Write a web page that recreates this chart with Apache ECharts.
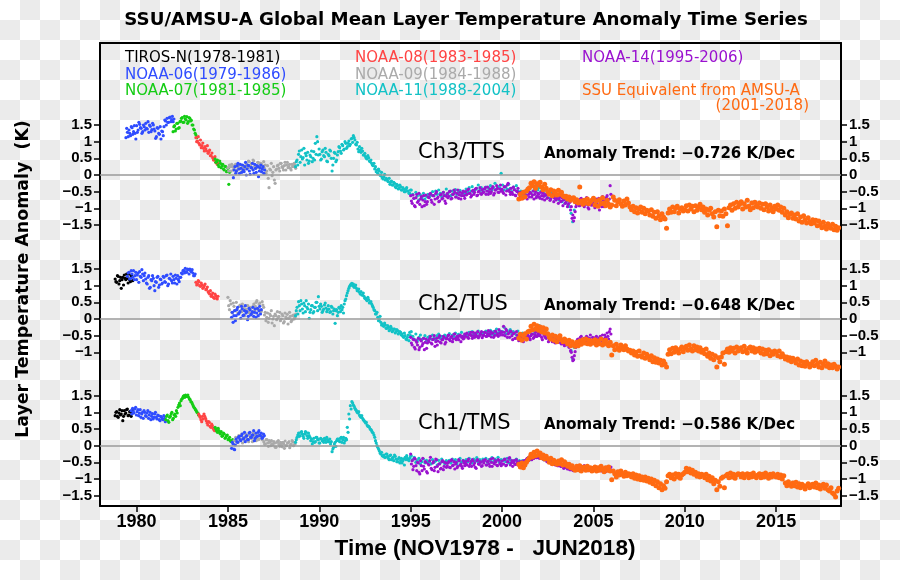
<!DOCTYPE html>
<html><head><meta charset="utf-8">
<script src="https://cdn.jsdelivr.net/npm/echarts@6/dist/echarts.min.js"></script>
<style>
html,body{margin:0;padding:0;}
body{width:900px;height:580px;background:repeating-conic-gradient(#ebebeb 0% 25%, #ffffff 0% 50%) 0 0/40px 40px;}
#chart{width:900px;height:580px;}
</style></head><body><div id="chart"></div>
<script>
// ---------- axis ticks ----------
const xTicks = [1980, 1985, 1990, 1995, 2000, 2005, 2010, 2015];
const yTicks3 = [-1.5, -1, -0.5, 0, 0.5, 1, 1.5];
const yTicks2 = [-1, -0.5, 0, 0.5, 1, 1.5];
const yTicks1 = [-1.5, -1, -0.5, 0, 0.5, 1, 1.5];

// All anomaly values below are in hundredths of a kelvin, monthly from the given start year.
// "_b" arrays are the second sample of each month (mid-month).
// ---------- Ch3/TTS ----------
const ch3_n06a_start = 1979.42;
const ch3_n06a = [112,128,135,118,142,130,125, 148,135,152,140,130,145,155,138,128,146,136,150, 132,115,140,122,108,130, 145,162,170,158,174,166,160];
const ch3_n06a_b = [140,115,125,145,122,148,108, 128,158,142,125,150,135,140,160,150,130,155,138, 110,142,125,145,132,118, 165,150,158,172,160,176,168];
const ch3_n07a_start = 1982.0;
const ch3_n07a = [130,148,138,155,142, 162,172,158,168,175,160,170,164, 150,135,120];
const ch3_n07a_b = [145,132,155,140,160, 170,158,176,165,155,172,162,150, 138,125,112];
const ch3_n08_start = 1983.25;
const ch3_n08 = [112,102,95,105,88,80,85,72,65,75,58,52,45,38,32];
const ch3_n08_b = [100,115,90,82,96,72,78,88,70,58,66,45,55,42,35];
const ch3_n07b_start = 1984.3;
const ch3_n07b = [48,40,30,42,22,32,15,25,12,-28];
const ch3_n07b_b = [38,45,25,35,28,18,26,10,20,8];
const ch3_n06b_start = 1985.3;
const ch3_n06b = [-8,25,12,35,5,20,30,10,38,18,28,2,22,15,32,8,25,12,30,18,5];
const ch3_n06b_b = [15,5,28,18,32,8,15,25,0,30,12,22,35,5,20,28,-5,22,10,25,15];
const ch3_n09_start = 1985.0;
const ch3_n09 = [22,30,12,25,18,32,15,28,20,10,26,18, 35,22,40,28,18,42,30,25,38,20,33,27, 20,5,28,-38,15,-2,25,-25, 18,30,12,35,22,28,15,38,25,20,32,26,30];
const ch3_n09_b = [12,25,32,15,28,10,24,18,30,22,15,28, 25,42,28,35,45,25,20,38,28,35,22,40, 30,12,-10,18,35,8,-15,15, 28,20,35,25,15,38,30,22,32,15,25,35,20];
const ch3_n11_start = 1988.7;
const ch3_n11 = [25,45,62,38,75,52,30,58,68,42, 55,40,70,95,115,60, 62,48,75,55,68,40,58,72,12,50,65,45, 70,82,65,88,78,95,85,102,92,110,118, 105,90,78,85,68,72,60,55,48,52,40,35,28, 18,10,5,12,-2,-8,-5,-15, -12,-20,-28,-18,-30,-25,-38,-32,-40,-35,-45,-42,-50,-38,-48,-55,
 -45,-58,-70,-52,-62,-75,-60,-68,-55,-72,-64,-58,-66,-60,
 -50,-62,-48,-58,-45,-55,-65,-52,-60,-42,-56,-50,-62,-48,-54,-44,-58,-52,-46,-60,-50,-55,
 -42,-50,-38,-48,-35,-52,-44,-40,-30,-46,-38,-50,-42,-36,-48,-40,-32,-45,-38,-25,-42,-35,
 -38,5,-30,-45,-35,-42,-28,-40,-50,-36,-44,-32,-48,
 -55,-48,-62,-50,-58,-45,-40,-52,-35,-48,-42,-30,-45,
 -38,-50,-44,-55,-62,-48,-58,-70,-52,-65,-60,-72,
 -68,-75,-62,-80,-72,-85,-78,-90,-95,-115,-140,-105];
const ch3_n11_b = [40,30,72,55,48,80,65,45,35,60, 72,50,45,62,100,78, 45,70,58,80,42,62,75,50,30,68,40,60, 85,72,92,75,100,80,95,88,108,98,112, 92,98,70,75,80,60,65,50,58,42,45,30,35, 25,15,18,0,8,-12,2,-10, -18,-10,-22,-30,-22,-35,-28,-42,-30,-45,-38,-50,-42,-48,-55,-45];
const ch3_n14_start = 1995.0;
const ch3_n14 = [-62,-85,-70,-95,-58,-78,-88,-65,-75,-92,-60,-80,
 -68,-55,-82,-62,-72,-50,-66,-78,-58,-70,-62,-85,
 -56,-64,-48,-70,-58,-52,-66,-45,-60,-72,-54,-62,
 -50,-58,-42,-55,-62,-46,-52,-40,-60,-48,-56,-44,
 -52,-38,-48,-58,-42,-50,-35,-55,-45,-40,-52,-30,
 -42,-55,-36,-48,-25,-50,-40,-58,-44,-62,-50,-56,
 -65,-52,-70,-58,-62,-48,-66,-55,-60,-72,-50,-64,
 -58,-70,-62,-55,-75,-60,-68,-52,-72,-65,-80,-62,
 -70,-85,-66,-78,-92,-72,-82,-95,-75,-105,-130,-138,
 -110,-88,-78,-92,-70,-85,-95,-75,-88,-102,-80,-90,
 -85,-98,-72,-90,-105,-82,-65,-95,-78,-62,-88,-32];
const ch3_n14_b = [-78,-60,-92,-68,-82,-55,-72,-95,-62,-80,-88,-66,
 -58,-75,-62,-88,-55,-70,-80,-60,-72,-52,-78,-64,
 -68,-50,-72,-58,-45,-66,-55,-70,-52,-62,-48,-70,
 -60,-45,-55,-66,-48,-58,-42,-62,-50,-38,-58,-52,
 -42,-58,-36,-50,-55,-40,-60,-45,-32,-52,-42,-48,
 -50,-35,-60,-30,-45,-58,-52,-36,-60,-48,-40,-52,
 -55,-68,-50,-62,-72,-58,-52,-66,-48,-58,-68,-55,
 -66,-52,-72,-64,-58,-70,-55,-76,-62,-58,-70,-75,
 -62,-72,-80,-68,-75,-85,-70,-88,-82,-95,-120,-128,
 -95,-80,-92,-72,-85,-78,-88,-68,-98,-82,-90,-75,
 -92,-78,-88,-70,-82,-95,-75,-85,-68,-80,-72,-58];
const ch3_amsu_start = 2000.92;
const ch3_amsu = [-72,-58,-70,-52,-65,-48,-42,
 -38,-25,-32,-20,-40,-26,-30,-22,-36,-44,-28,-40,
 -50,-58,-44,-62,-48,-55,-60,-46,-58,-52,-62,-66,
 -64,-72,-66,-76,-70,-68,
 -80,-74,-84,-36,-78,-88,-76,-84,-72,-86,-80,-76,
 -70,-90,-78,-94,-74,-86,-68,-84,-92,-76,-88,-96,
 -90,-66,-76,-92,-80,-74,-86,-94,-78,-90,-72,-84,
 -96,-104,-94,-110,-98,-114,-102,-96,-112,-100,-116,-106,
 -108,-120,-104,-124,-112,-130,-110,-122,-134,-116,-126,-132,
 -160,-114,-102,-112,-96,-110,-100,-94,-114,-102,-98,-108,
 -104,-92,-108,-90,-102,-94,-110,-92,-106,-96,-88,-104,
 -96,-112,-102,-120,-106,-100,-116,-126,-110,-155,-106,-122,
 -108,-124,-102,-116,-152,-98,-90,-106,-86,-100,-82,-96,
 -88,-80,-102,-86,-96,-76,-94,-104,-84,-98,-82,-92,
 -96,-84,-100,-88,-104,-86,-96,-108,-90,-100,-110,-94,
 -102,-90,-106,-96,-112,-100,-120,-110,-128,-118,-114,-130,
 -120,-132,-116,-138,-126,-142,-122,-134,-144,-128,-140,-146,
 -134,-144,-136,-152,-138,-150,-158,-142,-154,-162,-146,-156,
 -160,-148,-164,-154,-166,-158];

// ---------- Ch2/TUS ----------
const ch2_tiros_start = 1978.83;
const ch2_tiros = [120,110,128,115,92,125,132,118,122,135,112,128];
const ch2_tiros_b = [112,130,105,125,118,102,122,135,108,118,130,115];
const ch2_n06a_start = 1979.5;
const ch2_n06a = [128,140,122,135,145,130,118,138,142,125,135,130, 120,105,130,95,115,122,85,110,128,102,118,108, 125,110,132,105,120,115,128,108,122,130,112,125, 135,145,152,140,148,150,142,138,130];
const ch2_n06a_b = [138,120,145,125,118,140,132,110,128,148,115,138, 108,125,92,118,130,100,112,125,95,120,105,128, 112,130,100,122,135,108,118,132,105,118,125,138, 145,138,142,150,135,145,148,130,135];
const ch2_n08_start = 1983.25;
const ch2_n08 = [110,105,112,98,102,95,105,90,82,75,68,78,62,70,60];
const ch2_n08_b = [102,115,100,108,92,100,88,96,78,85,72,65,75,62,68];
const ch2_n06b_start = 1985.2;
const ch2_n06b = [5,-10,25,10,35,18,2,30,12,40,22,8,28,15,35,20,5,32,25,15];
const ch2_n06b_b = [20,10,-5,28,15,22,38,10,25,18,-2,32,12,22,8,30,18,10,38,28];
const ch2_n09_start = 1985.0;
const ch2_n09 = [65,28,45,18,38,25, 30,15,42,22,35,10,28,40,20,32,18,45, 38,55,30,48,25,42, 12,-5,18,2,10,-12,8,15,-2,5,20,0,10,-8,6,14,2,8,-4,12,5];
const ch2_n09_b = [40,55,20,48,25,50, 18,38,25,45,12,30,40,20,35,15,38,25, 50,30,45,20,52,35, 20,5,-10,15,25,0,-20,10,22,8,-5,15,-12,18,2,-15,20,-8,10,0,15];
const ch2_n11_start = 1988.7;
const ch2_n11 = [10,35,52,25,45,18,40,55,30,2, 28,40,22,35,50,67,30,38,25,42,33,28, 30,22,35,25,-13,28,20,32,40,35, 45,60,78,92,102,107, 105,98,92,85,80,82,72,68,62,55,58,50,45, 35,25,15,5,-2,-10, -15,-22,-18,-28,-25,-32,-28,-35,-30,-38,-35,-42,-40, -45,-55,-50,-62,-48,-40,
 -38,-52,-60,-45,-65,-55,-48,-62,-58,-50,-66,-55,
 -52,-60,-48,-56,-62,-50,-45,-58,-52,-60,-48,-55,
 -50,-44,-56,-48,-52,-42,-55,-46,-50,-40,-52,-48,
 -45,-50,-40,-48,-38,-46,-52,-42,-36,-48,-44,-40,
 -42,-36,-48,-40,-34,-46,-38,-44,-30,-42,-36,-40,
 -38,-25,-44,-35,-40,-32,-45,-38,-42,-48,-36,-44,
 -50,-42,-55,-46,-40,-52,-35,-45,-30,-42,-38,-32,
 -20,-35,-28,-42,-38,-45,-52,-48,-55,-62,-50,-58,
 -55,-62,-58,-68,-60,-72,-65,-78,-70,-95,-120,-85];
const ch2_n11_b = [25,15,40,55,30,48,22,35,45,20, 40,18,35,50,25,38,45,20,30,48,22,40, 20,38,15,30,25,10,35,22,28,18, 55,70,85,98,105,100, 95,102,85,90,75,72,78,62,58,65,48,52,40, 28,15,20,-5,8,-18, -20,-12,-28,-20,-35,-22,-38,-30,-42,-32,-45,-38,-48, -52,-42,-60,-55,-65,-50];
const ch2_n14_start = 1995.0;
const ch2_n14 = [-55,-78,-62,-90,-70,-58,-85,-66,-74,-92,-60,-72,
 -68,-52,-75,-60,-82,-58,-66,-50,-72,-62,-55,-70,
 -58,-48,-65,-52,-60,-45,-62,-55,-50,-68,-52,-58,
 -52,-42,-58,-45,-50,-40,-55,-48,-38,-52,-46,-56,
 -48,-40,-52,-35,-46,-54,-42,-50,-38,-45,-32,-48,
 -40,-22,-50,-35,-45,-55,-38,-62,-42,-58,-48,-65,
 -60,-52,-68,-55,-62,-48,-58,-50,-45,-55,-40,-52,
 -42,-48,-55,-38,-50,-58,-45,-62,-52,-68,-58,-72,
 -62,-70,-58,-75,-66,-80,-62,-72,-85,-95,-115,-122,
 -98,-72,-60,-68,-52,-65,-58,-70,-55,-62,-48,-66,
 -58,-70,-52,-65,-60,-75,-48,-62,-55,-42,-60,-30];
const ch2_n14_b = [-72,-60,-85,-65,-78,-92,-62,-80,-58,-70,-88,-64,
 -58,-72,-62,-50,-68,-78,-55,-70,-62,-52,-75,-60,
 -50,-62,-55,-68,-45,-58,-52,-62,-48,-55,-60,-45,
 -45,-55,-48,-40,-58,-50,-42,-52,-56,-44,-38,-50,
 -40,-52,-44,-50,-38,-42,-55,-36,-48,-52,-42,-38,
 -48,-40,-30,-55,-42,-36,-50,-44,-58,-38,-52,-45,
 -52,-62,-48,-58,-50,-55,-62,-45,-58,-48,-52,-46,
 -50,-40,-62,-48,-55,-45,-68,-55,-60,-62,-70,-65,
 -68,-60,-72,-62,-75,-68,-78,-70,-80,-100,-125,-110,
 -85,-62,-72,-55,-70,-60,-65,-52,-68,-58,-70,-55,
 -62,-55,-68,-58,-52,-66,-60,-48,-64,-52,-38,-45];
const ch2_amsu_start = 2000.92;
const ch2_amsu = [-58,-46,-64,-50,-44,-60,-38,
 -36,-22,-32,-16,-30,-20,-34,-24,-38,-26,-42,-30,
 -44,-54,-60,-48,-64,-52,-68,-56,-50,-62,-68,-60,
 -66,-74,-64,-80,-68,-76,
 -82,-70,-80,-66,-76,-62,-72,-60,-74,-64,-76,-66,
 -72,-62,-78,-66,-74,-60,-78,-68,-64,-76,-80,-70,
 -108,-80,-92,-76,-86,-94,-78,-88,-92,-80,-90,-96,
 -94,-102,-96,-108,-100,-112,-96,-110,-114,-102,-118,-106,
 -114,-122,-110,-128,-116,-130,-120,-132,-124,-138,-126,-134,
 -144,-106,-92,-104,-88,-100,-86,-96,-102,-90,-84,-98,
 -88,-82,-94,-78,-90,-96,-80,-92,-84,-96,-86,-100,
 -94,-104,-90,-112,-102,-118,-106,-122,-110,-144,-116,-128,
 -114,-102,-136,-98,-90,-100,-86,-96,-88,-102,-84,-96,
 -90,-86,-98,-82,-94,-102,-88,-84,-96,-86,-100,-90,
 -96,-88,-102,-90,-106,-94,-104,-92,-110,-98,-106,-96,
 -100,-110,-96,-114,-104,-112,-120,-114,-124,-116,-128,-118,
 -124,-132,-120,-138,-126,-140,-130,-142,-128,-134,-144,-136,
 -128,-140,-124,-136,-144,-130,-146,-136,-126,-142,-134,-146,
 -138,-146,-136,-142,-150,-144];

// ---------- Ch1/TMS ----------
const ch1_tiros_start = 1978.83;
const ch1_tiros = [90,102,85,108,95,75,105,98,110,92,102,96];
const ch1_tiros_b = [100,88,98,92,105,88,95,108,90,102,88,105];
const ch1_n06a_start = 1979.7;
const ch1_n06a = [105,112,98,115,102,90,108,95,82,100,88,105,92,78,96,85,100,80,90,75,85,78,82];
const ch1_n06a_b = [95,102,110,92,108,98,85,100,105,90,98,82,100,88,80,95,85,92,78,88,80,90,72];
const ch1_n07a_start = 1981.6;
const ch1_n07a = [78,92,70,88,100,82,95, 105,115,128,135,142,150,152, 148,145,138,130,120,112,105,98];
const ch1_n07a_b = [88,75,85,95,78,92,88, 98,122,120,140,148,145,148, 152,140,132,125,115,108,100,92];
const ch1_n08_start = 1983.4;
const ch1_n08 = [95,85,72,80,88,75,62,70,55,60,48];
const ch1_n08_b = [90,78,88,95,82,68,72,58,65,52,45];
const ch1_n07b_start = 1984.3;
const ch1_n07b = [55,45,52,38,42,30,35,25,32,20,15,12];
const ch1_n07b_b = [50,40,45,35,28,38,22,30,18,25,12,18];
const ch1_n06b_start = 1985.2;
const ch1_n06b = [-8,5,-12,20,10,28,15,35,22,12,30,18,40,25,32,15,38,28,45,30,22,35];
const ch1_n06b_b = [10,-10,2,12,25,18,30,20,40,28,18,38,25,32,45,22,28,40,32,38,25,30];
const ch1_n09_start = 1985.3;
const ch1_n09 = [5,15,22,10,28,18,8,25,35,20,12,30,22,38,25,15,32,20,28,18, 12,5,18,-2,10,15,2,8,-5,12,4,10,-3,6,14,0,8,-6,5,12,10];
const ch1_n09_b = [15,25,10,30,20,35,22,15,28,18,32,22,12,28,35,22,18,30,25,32, 5,18,8,15,0,5,12,-5,10,15,-2,5,10,-8,0,8,12,2,15,0,5];
const ch1_n11_start = 1988.7;
const ch1_n11 = [10,25,38,30,42,28,35,40,22,30, 15,5,22,12,25,18,8,20,15,22,10,18,12, 5,-18,-5,10,15, 20,12,25,18,8,22, 55,95,120,132, 122,112,105,98,92,85,82,75,68,62,58,50,45,38, 25,8,-5,-15,-25,-30, -28,-35,-25,-38,-30,-42,-35,-28,-40,-48,-36,-45,-52,-40,-35,-30,-42,-38,
 -30,-42,-35,-50,-45,-38,-55,-48,-40,-52,-44,-50,
 -48,-55,-42,-50,-46,-58,-44,-52,-40,-48,-54,-45,
 -50,-44,-52,-40,-48,-42,-55,-46,-38,-50,-44,-48,
 -42,-48,-38,-46,-52,-40,-45,-36,-50,-42,-48,-40,
 -44,-38,-50,-42,-46,-36,-48,-40,-44,-35,-50,-42,
 -45,-40,-48,-38,-52,-42,-46,-50,-44,-40,-48,-45,
 -50,-45,-55,-48,-40,-35,-42,-30,-38,-32,-28,-35,
 -30,-38,-35,-42,-40,-45,-48,-44,-52,-48,-55,-50,
 -55,-52,-60,-58,-62,-66,-60,-68,-64,-70,-72,-68];
const ch1_n11_b = [18,32,28,40,35,22,42,30,38,25, 20,12,10,25,18,8,22,15,10,18,25,12,20, 12,-10,5,-2,20, 15,22,10,25,15,18, 40,80,110,128, 118,108,100,102,88,90,78,72,70,58,55,48,40,32, 15,0,-10,-22,-20,-32, -35,-25,-32,-42,-28,-38,-45,-32,-48,-40,-52,-38,-45,-58,-42,-38,-45,-32];
const ch1_n14_start = 1995.0;
const ch1_n14 = [-25,-45,-62,-40,-75,-52,-85,-60,-38,-70,-50,-82,
 -58,-35,-72,-48,-65,-42,-78,-55,-68,-45,-62,-52,
 -60,-48,-66,-42,-58,-70,-50,-62,-45,-55,-68,-52,
 -48,-58,-40,-55,-62,-45,-52,-68,-42,-56,-50,-60,
 -52,-42,-58,-46,-62,-50,-38,-55,-48,-60,-44,-52,
 -46,-55,-40,-58,-48,-36,-52,-62,-45,-56,-50,-58,
 -55,-48,-60,-45,-42,-38,-35,-40,-32,-38,-30,-36,
 -32,-28,-38,-35,-42,-38,-45,-50,-46,-55,-52,-58,
 -55,-60,-52,-62,-58,-66,-60,-70,-65,-72,-68,-75,
 -70,-62,-72,-65,-75,-68,-60,-72,-66,-74,-70,-76,
 -68,-72,-65,-76,-70,-62,-74,-68,-78,-66,-72,-70];
const ch1_n14_b = [-55,-72,-38,-60,-50,-80,-45,-75,-62,-48,-78,-55,
 -45,-68,-52,-75,-40,-62,-55,-70,-48,-72,-50,-65,
 -52,-65,-45,-60,-48,-55,-66,-42,-58,-62,-45,-60,
 -55,-45,-62,-48,-42,-58,-65,-45,-55,-48,-62,-45,
 -45,-58,-48,-55,-40,-62,-52,-45,-58,-42,-55,-60,
 -55,-42,-60,-48,-38,-58,-45,-50,-56,-42,-58,-48,
 -50,-58,-45,-52,-38,-45,-30,-42,-38,-30,-36,-28,
 -38,-35,-30,-42,-36,-48,-40,-45,-55,-50,-48,-55,
 -60,-55,-62,-58,-68,-60,-66,-62,-72,-66,-74,-70,
 -65,-72,-66,-76,-62,-72,-70,-64,-75,-68,-72,-66,
 -74,-66,-72,-68,-62,-76,-68,-72,-65,-75,-70,-64];
const ch1_amsu_start = 2000.92;
const ch1_amsu = [-56,-64,-52,-66,-58,-50,-42,
 -36,-26,-34,-20,-30,-16,-28,-22,-36,-28,-40,-32,
 -40,-50,-38,-54,-44,-52,-56,-46,-54,-42,-58,-48,
 -54,-62,-56,-66,-60,-70,
 -74,-62,-72,-60,-76,-66,-64,-74,-62,-72,-66,-76,
 -68,-64,-76,-66,-74,-62,-70,-78,-66,-74,-64,-76,
 -102,-76,-84,-94,-78,-88,-76,-86,-92,-80,-90,-84,
 -86,-94,-84,-98,-88,-100,-90,-102,-94,-104,-94,-106,
 -98,-110,-100,-114,-104,-120,-108,-126,-114,-132,-120,-128,
 -108,-90,-86,-96,-88,-100,-84,-94,-86,-98,-88,-84,
 -80,-68,-78,-70,-82,-74,-86,-80,-92,-84,-94,-86,
 -88,-96,-86,-102,-92,-106,-96,-114,-104,-132,-108,-122,
 -98,-94,-126,-90,-86,-96,-82,-94,-86,-98,-88,-84,
 -86,-94,-84,-96,-88,-84,-96,-86,-94,-82,-90,-96,
 -88,-84,-96,-86,-94,-82,-90,-98,-86,-94,-84,-90,
 -94,-86,-96,-88,-100,-90,-112,-120,-108,-116,-122,-112,
 -120,-110,-124,-114,-126,-116,-120,-130,-120,-114,-126,-118,
 -116,-124,-112,-126,-118,-130,-120,-116,-128,-118,-132,-136,
 -126,-142,-146,-154,-136,-128];

// ---------- text ----------
const titleText = 'SSU/AMSU-A Global Mean Layer Temperature Anomaly Time Series';
const yName = 'Layer Temperature Anomaly  (K)';
const xName = 'Time (NOV1978 -   JUN2018)';
const panelNames = ['Ch3/TTS', 'Ch2/TUS', 'Ch1/TMS'];
const trends = ['Anomaly Trend: \u22120.726 K/Dec', 'Anomaly Trend: \u22120.648 K/Dec', 'Anomaly Trend: \u22120.586 K/Dec'];
const legendNames = ['TIROS-N(1978-1981)', 'NOAA-06(1979-1986)', 'NOAA-07(1981-1985)', 'NOAA-08(1983-1985)', 'NOAA-09(1984-1988)', 'NOAA-11(1988-2004)', 'NOAA-14(1995-2006)', 'SSU Equivalent from AMSU-A', '(2001-2018)'];

// ---------- styling ----------
const C = {tiros:'#000000', n06:'#2f4cff', n07:'#14cc14', n08:'#ff4444', n09:'#aaaaaa', n11:'#12c2c6', n14:'#9a12cf', amsu:'#ff6a12'};
const SMALL = 3.2, BIG = 5;
const gridsPx = [{top:43, height:204}, {top:247, height:128}, {top:375, height:131}];
const yRange = [[-2.16, 3.96], [-1.68, 2.16], [-1.81, 2.12]];
const yTickSets = [yTicks3, yTicks2, yTicks1];

function pts(start, vals, off) { return vals.map((v, i) => [start + (off || 0) + i / 12, v / 100]); }
function fmt(v) { return v < 0 ? '\u2212' + Math.abs(v) : String(v); }
function sc(g, start, vals, color, size, off) {
  return {type:'scatter', xAxisIndex:g, yAxisIndex:g*2, data:pts(start, vals, off), symbol:'circle',
    symbolSize:size, itemStyle:{color:color, opacity:1}, silent:true, animation:false};
}
const H = 1 / 24; // mid-month offset for second samples
function pair(g, start, a, b, color) {
  return [sc(g, start, a, color, SMALL, 0), sc(g, start, b, color, SMALL, H)];
}

const series = [
  // Ch3
  ...pair(0, ch3_n06a_start, ch3_n06a, ch3_n06a_b, C.n06),
  ...pair(0, ch3_n07a_start, ch3_n07a, ch3_n07a_b, C.n07),
  ...pair(0, ch3_n08_start, ch3_n08, ch3_n08_b, C.n08),
  ...pair(0, ch3_n07b_start, ch3_n07b, ch3_n07b_b, C.n07),
  ...pair(0, ch3_n09_start, ch3_n09, ch3_n09_b, C.n09),
  ...pair(0, ch3_n06b_start, ch3_n06b, ch3_n06b_b, C.n06),
  ...pair(0, ch3_n11_start, ch3_n11, ch3_n11_b, C.n11),
  ...pair(0, ch3_n14_start, ch3_n14, ch3_n14_b, C.n14),
  sc(0, ch3_amsu_start, ch3_amsu, C.amsu, BIG),
  // Ch2
  ...pair(1, ch2_tiros_start, ch2_tiros, ch2_tiros_b, C.tiros),
  ...pair(1, ch2_n06a_start, ch2_n06a, ch2_n06a_b, C.n06),
  ...pair(1, ch2_n08_start, ch2_n08, ch2_n08_b, C.n08),
  ...pair(1, ch2_n09_start, ch2_n09, ch2_n09_b, C.n09),
  ...pair(1, ch2_n06b_start, ch2_n06b, ch2_n06b_b, C.n06),
  ...pair(1, ch2_n11_start, ch2_n11, ch2_n11_b, C.n11),
  ...pair(1, ch2_n14_start, ch2_n14, ch2_n14_b, C.n14),
  sc(1, ch2_amsu_start, ch2_amsu, C.amsu, BIG),
  // Ch1
  ...pair(2, ch1_tiros_start, ch1_tiros, ch1_tiros_b, C.tiros),
  ...pair(2, ch1_n06a_start, ch1_n06a, ch1_n06a_b, C.n06),
  ...pair(2, ch1_n07a_start, ch1_n07a, ch1_n07a_b, C.n07),
  ...pair(2, ch1_n08_start, ch1_n08, ch1_n08_b, C.n08),
  ...pair(2, ch1_n07b_start, ch1_n07b, ch1_n07b_b, C.n07),
  ...pair(2, ch1_n09_start, ch1_n09, ch1_n09_b, C.n09),
  ...pair(2, ch1_n06b_start, ch1_n06b, ch1_n06b_b, C.n06),
  ...pair(2, ch1_n11_start, ch1_n11, ch1_n11_b, C.n11),
  ...pair(2, ch1_n14_start, ch1_n14, ch1_n14_b, C.n14),
  sc(2, ch1_amsu_start, ch1_amsu, C.amsu, BIG)
];
// zero lines
[0, 1, 2].forEach(g => {
  series.unshift({type:'line', xAxisIndex:g, yAxisIndex:g*2, data:[], silent:true, animation:false,
    markLine:{silent:true, symbol:'none', animation:false, label:{show:false},
      lineStyle:{color:'#9a9a9a', width:1.5, type:'solid'}, data:[{yAxis:0}]}});
});

const tickFont = {fontFamily:'"Liberation Sans", Arial, sans-serif', fontWeight:'bold', color:'#000'};
const grid = gridsPx.map(p => ({left:100, width:741, top:p.top, height:p.height, containLabel:false}));
const xAxis = [0, 1, 2].map(g => ({
  gridIndex:g, type:'value', min:1978, max:2018.55, position: g === 0 ? 'top' : 'bottom',
  axisLine:{show: g !== 1, onZero:false, lineStyle:{color:'#000', width:2}},
  axisTick:{show: g === 2, length:6, customValues:xTicks, lineStyle:{color:'#000', width:1.5}},
  axisLabel:{show: g === 2, customValues:xTicks, margin:7, fontSize:18, formatter: v => String(v), ...tickFont},
  splitLine:{show:false}
}));
const yAxis = [];
[0, 1, 2].forEach(g => {
  ['left', 'right'].forEach(pos => {
    yAxis.push({gridIndex:g, type:'value', position:pos, min:yRange[g][0], max:yRange[g][1],
      axisLine:{show:true, onZero:false, lineStyle:{color:'#000', width:2}},
      axisTick:{show:true, length:6, customValues:yTickSets[g], lineStyle:{color:'#000', width:1.5}},
      axisLabel:{show:true, customValues:yTickSets[g], margin:8, fontSize:15, formatter:fmt, ...tickFont},
      splitLine:{show:false}});
  });
});

const F = '"DejaVu Sans", Verdana, sans-serif';
function txt(x, y, text, opt) {
  return {type:'text', x:x, y:y, silent:true, rotation: opt.rot || 0,
    style:{text:text, fill:opt.color || '#000', fontFamily:opt.family || F, fontSize:opt.size,
      fontWeight:opt.weight || 'normal', align:opt.align || 'left', verticalAlign:'middle',
      textAlign:opt.align || 'left', textVerticalAlign:'middle'}};
}
const legendColors = [C.tiros, C.n06, C.n07, C.n08, C.n09, C.n11, C.n14, C.amsu, C.amsu];
const legendPos = [[125,58],[125,75],[125,91],[355,58],[355,75],[355,91],[582,58],[582,91],[809,106]];
const graphics = [
  txt(466, 20, titleText, {size:18.2, weight:'bold', align:'center'}),
  txt(23, 279, yName, {size:17.4, weight:'bold', align:'center', rot:Math.PI/2}),
  txt(485, 549, xName, {size:22.6, weight:'bold', align:'center', family:'"Liberation Sans", Arial, sans-serif'})
];
legendNames.forEach((n, i) => {
  graphics.push(txt(legendPos[i][0], legendPos[i][1], n, {size:15, color:legendColors[i], align: i === 8 ? 'right' : 'left'}));
});
const panelY = [153, 305, 424];
panelNames.forEach((n, i) => {
  graphics.push(txt(418, panelY[i], n, {size:21}));
  graphics.push(txt(544, panelY[i] + 1, trends[i], {size:15, weight:'bold'}));
});

const chart = echarts.init(document.getElementById('chart'), null, {renderer:'canvas'});
chart.setOption({
  backgroundColor:'transparent', animation:false,
  grid:grid, xAxis:xAxis, yAxis:yAxis, series:series, graphic:graphics
});
</script></body></html>
